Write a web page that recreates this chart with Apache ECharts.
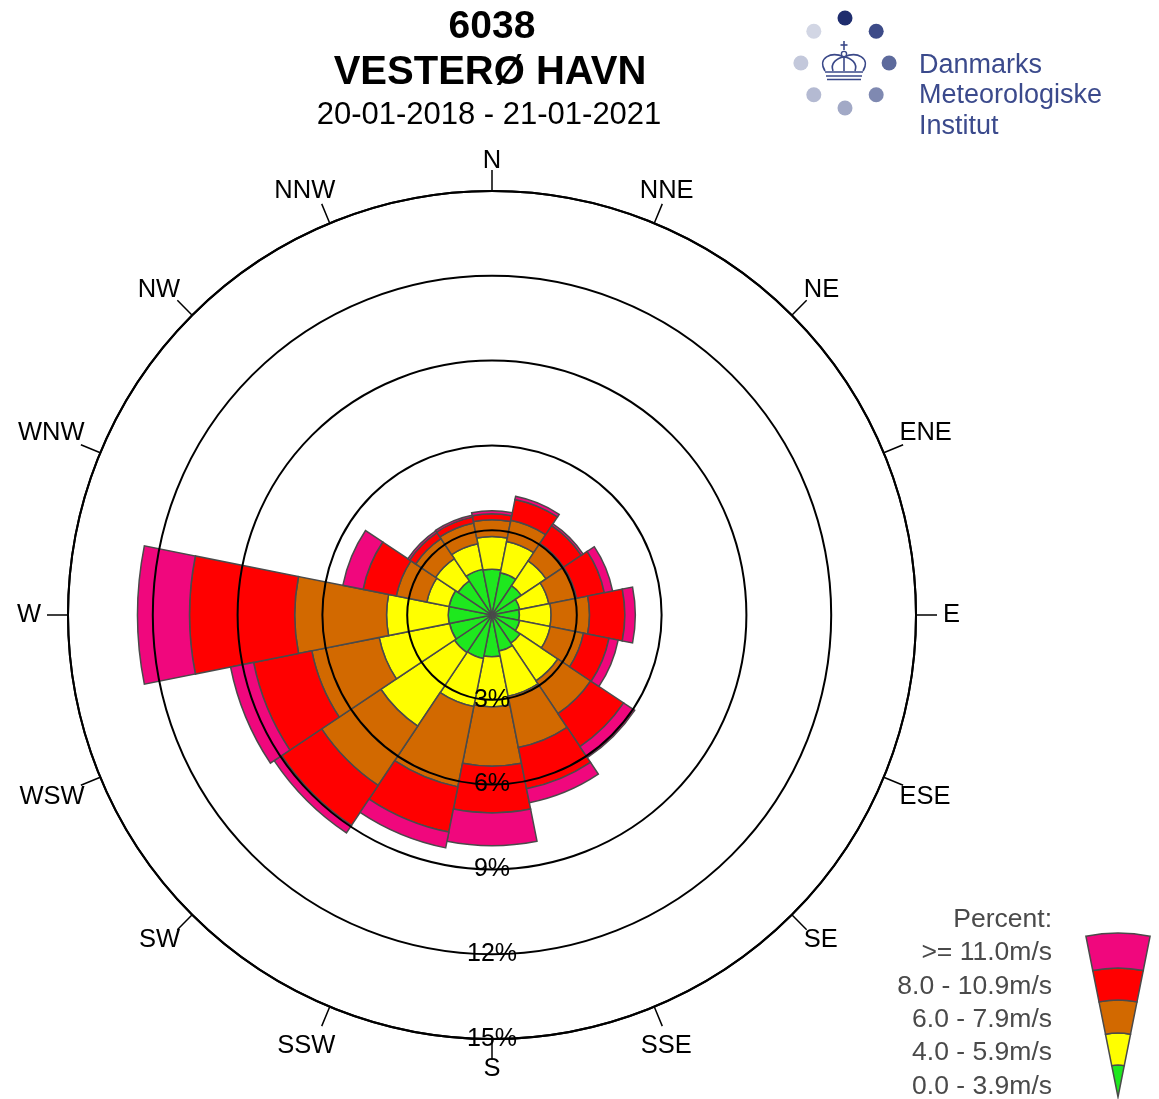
<!DOCTYPE html>
<html><head><meta charset="utf-8">
<script src="https://cdn.jsdelivr.net/npm/echarts@6/dist/echarts.min.js"></script>
<style>html,body{margin:0;padding:0;background:#fff}#chart{width:1159px;height:1099px}</style>
</head><body><div id="chart"></div>
<script>
// Directions, clockwise starting from South (radius labels sit along the South spoke)
const directions = ['S','SSW','SW','WSW','W','WNW','NW','NNW','N','NNE','NE','ENE','E','ESE','SE','SSE'];
const speedClasses = ['0.0 - 3.9m/s','4.0 - 5.9m/s','6.0 - 7.9m/s','8.0 - 10.9m/s','>= 11.0m/s'];
const classColors = ['#1ee81e','#ffff00','#d26900','#ff0000','#f0077d'];
// Percent of observations per speed class and direction (same order as directions)
const speed0to4   = [1.48,1.57,1.60,1.53,1.55,1.55,1.45,1.65,1.62,1.52,1.25,1.00,0.97,1.00,1.20,1.30];
const speed4to6   = [1.77,1.73,3.13,2.54,2.18,0.80,0.95,0.92,1.16,1.13,1.05,1.05,1.12,1.10,1.60,1.63];
const speed6to8   = [2.10,2.90,2.52,2.43,3.25,1.10,0.85,0.75,0.59,0.77,0.75,1.00,1.36,1.20,1.40,1.85];
const speed8to11  = [1.65,1.63,1.70,2.10,3.72,1.20,0.25,0.21,0.21,0.75,0.75,1.00,1.25,0.92,1.40,1.49];
const speed11plus = [1.16,0.57,0.32,0.83,1.84,0.73,0.08,0.07,0.11,0.11,0.08,0.30,0.37,0.33,0.47,0.50];
const ringTicks = [3,6,9,12,15];
const titleLines = ['6038','VESTERØ HAVN','20-01-2018 - 21-01-2021'];
const logoLines = ['Danmarks','Meteorologiske','Institut'];

const seriesValues = [speed0to4, speed4to6, speed6to8, speed8to11, speed11plus];
const FONT = '"Liberation Sans", Arial, sans-serif';
const CENTER = [492, 615], RADIUS = 424;

// label nudges (style only): padding [top, right, bottom, left]
const labelPad = {
  E: [0, 10, 0, 10], W: [0, 10, 0, 10],
  NNE: [0, 0, 4, -21], NNW: [0, -12, 4, 0],
  SSE: [11, 0, 0, -20], SSW: [11, -12, 0, 0]
};
const labelRich = {};
Object.keys(labelPad).forEach(k => { labelRich['p' + k] = {padding: labelPad[k], fontSize: 25.5, fontFamily: FONT, color: '#000'}; });

const chart = echarts.init(document.getElementById('chart'), null, {renderer: 'canvas'});

const series = seriesValues.map((vals, i) => ({
  type: 'bar',
  name: speedClasses[i],
  coordinateSystem: 'polar',
  polarIndex: 0,
  stack: 'wind',
  data: vals,
  barCategoryGap: '0%',
  itemStyle: {color: classColors[i], borderColor: '#4a4a4a', borderWidth: 1.5},
  emphasis: {disabled: true},
  z: 2
}));

// Logo
const logoCx = 845, logoCy = 63, dotR = 7.5, ringR = 45;
const dotColors = ['#1f2d6e','#3d4b88','#5d6a9c','#7f89b1','#a2a9c6','#b4bad2','#c3c8db','#d2d6e4'];
const crownStroke = {stroke:'#3a4888', lineWidth:1.6, fill:null};
const logoGraphics = [];
for (let k = 0; k < 8; k++) {
  const a = -Math.PI/2 + k*Math.PI/4;
  logoGraphics.push({type:'circle', shape:{cx: logoCx + ringR*Math.cos(a)*0.98, cy: logoCy + ringR*Math.sin(a), r: dotR}, style:{fill: dotColors[k]}, silent:true});
}
const crownLines = [[844,41,844,50],[840.5,45,847.5,45],[844,57,844,71],[825,72,863,72],[826,76,862,76],[827,79.5,861,79.5]];
crownLines.forEach(l => logoGraphics.push({type:'line', shape:{x1:l[0],y1:l[1],x2:l[2],y2:l[3]}, style:crownStroke, silent:true}));
const crownCurves = [
  [825,71,817,58,831,51,844,57],[844,57,857,51,871,58,863,71],
  [833,71,830,63,837,58,844,57],[844,57,851,58,858,63,855,71]];
crownCurves.forEach(c => logoGraphics.push({type:'bezierCurve', shape:{x1:c[0],y1:c[1],cpx1:c[2],cpy1:c[3],cpx2:c[4],cpy2:c[5],x2:c[6],y2:c[7]}, style:crownStroke, silent:true}));
logoGraphics.push({type:'circle', shape:{cx:844, cy:54, r:2.6}, style:{fill:'#fff', stroke:'#3a4888', lineWidth:1.4}, silent:true});
logoLines.forEach((t, i) => {
  logoGraphics.push({type:'text', left: 919, top: 52 + i*30.5, style:{text: t, fill:'#3b4a8c', font: '27px ' + FONT}, silent:true});
});

// Legend
const legCx = 1118, legCy = 1097;
const legR = [0, 32, 64, 97, 129, 164];
const half = 0.197;
const legendGraphics = [];
for (let i = 0; i < 5; i++) {
  legendGraphics.push({type:'sector', shape:{cx: legCx, cy: legCy, r0: legR[i], r: legR[i+1], startAngle: -Math.PI/2 - half, endAngle: -Math.PI/2 + half},
    style:{fill: classColors[i], stroke:'#4a4a4a', lineWidth:1.5}, silent:true});
}
const legendTexts = ['Percent:'].concat(speedClasses.slice().reverse());
legendTexts.forEach((t, i) => {
  legendGraphics.push({type:'text', right: 1159 - 1052, top: 906 + i*33.4, style:{text: t, fill:'#4a4a4a', font: '26.5px ' + FONT, textAlign:'right'}, silent:true});
});

chart.setOption({
  animation: false,
  backgroundColor: '#fff',
  title: [
    {text: titleLines[0], left: 492, top: 8, padding: 0, textAlign: 'center', textStyle:{fontFamily: FONT, fontSize: 39, fontWeight: 'bold', color:'#000'}},
    {text: titleLines[1], left: 490, top: 53, padding: 0, textAlign: 'center', textStyle:{fontFamily: FONT, fontSize: 40, fontWeight: 'bold', color:'#000'}},
    {text: titleLines[2], left: 489, top: 100, padding: 0, textAlign: 'center', textStyle:{fontFamily: FONT, fontSize: 31, fontWeight: 'normal', color:'#000'}}
  ],
  polar: [
    {center: CENTER, radius: RADIUS},
    {center: CENTER, radius: RADIUS}
  ],
  angleAxis: [
    {
      polarIndex: 0,
      type: 'category',
      data: directions,
      boundaryGap: false,
      startAngle: -90,
      clockwise: true,
      z: 10,
      axisLine: {show: false},
      axisTick: {show: true, interval: 0, length: 21, lineStyle: {color: '#000', width: 1.5}},
      axisLabel: {show: true, interval: 0, margin: 17, fontSize: 25.5, fontFamily: FONT, color: '#000',
        formatter: v => labelPad[v] ? '{p' + v + '|' + v + '}' : v,
        rich: labelRich},
      splitLine: {show: false}
    },
    {
      polarIndex: 1,
      type: 'value',
      min: 0, max: 360,
      startAngle: -90,
      clockwise: true,
      z: 10,
      axisLine: {show: true, lineStyle: {color: '#000', width: 2}},
      axisTick: {show: false},
      axisLabel: {show: false},
      splitLine: {show: false}
    }
  ],
  radiusAxis: [
    {
      polarIndex: 0,
      type: 'value',
      min: 0, max: 15, interval: 3,
      axisLine: {show: false}, axisTick: {show: false}, axisLabel: {show: false}, splitLine: {show: false}
    },
    {
      polarIndex: 1,
      type: 'value',
      min: 0, max: 15, interval: 3,
      z: 10,
      axisLine: {show: false},
      axisTick: {show: false},
      splitLine: {show: true, lineStyle: {color: '#000', width: 2}},
      axisLabel: {show: true, showMinLabel: false, margin: 0, align: 'center', verticalAlign: 'middle',
        formatter: v => ringTicks.indexOf(v) >= 0 ? v + '%' : '', fontSize: 25, fontFamily: FONT, color: '#000'}
    }
  ],
  series: series,
  graphic: logoGraphics.concat(legendGraphics)
});
</script>
</body></html>
